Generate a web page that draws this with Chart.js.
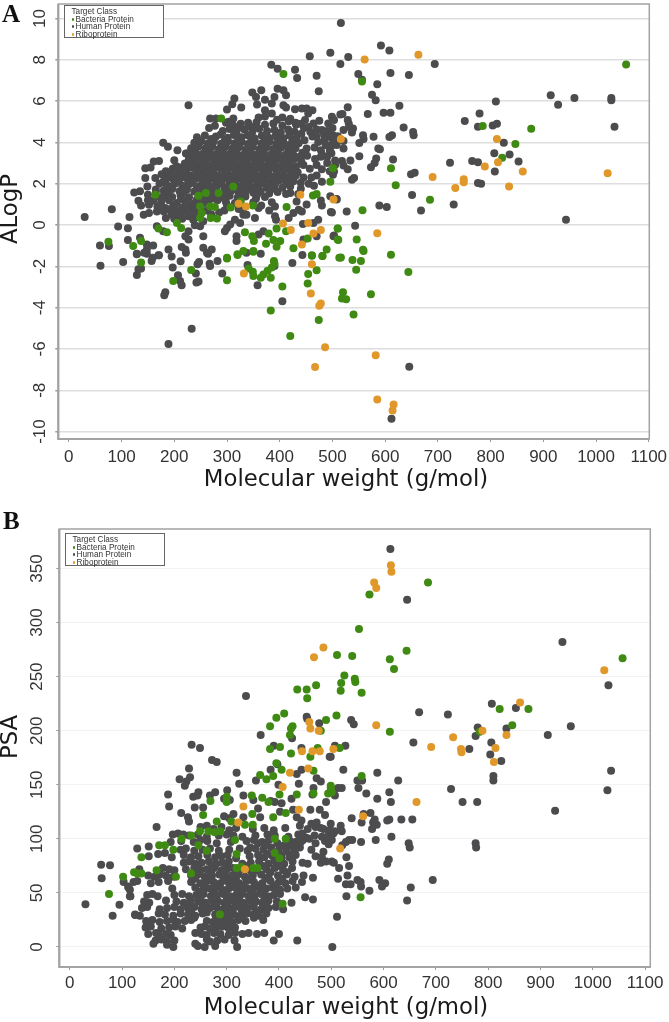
<!DOCTYPE html>
<html><head><meta charset="utf-8">
<script src="https://cdn.jsdelivr.net/npm/chart.js@4"></script>
<style>
html,body{margin:0;padding:0;background:#fff;width:669px;height:1022px;overflow:hidden}
canvas{position:absolute;left:0}
.letter{position:absolute;font:bold 25px "Liberation Serif";color:#111;line-height:1}
.legend{position:absolute;box-sizing:border-box;width:100px;height:33px;border:1px solid #666;background:#fff;font:8.2px/7.5px "Liberation Sans";color:#333;padding:2px 0 0 6.5px;white-space:nowrap}
.legend i{display:inline-block;width:2.6px;height:2.6px;border-radius:50%;margin-right:1.5px;vertical-align:1px}
</style></head><body>
<canvas id="a" width="669" height="505" style="top:0"></canvas>
<canvas id="b" width="669" height="517" style="top:505px"></canvas>
<div class="letter" style="left:2px;top:1px">A</div>
<div class="letter" style="left:3px;top:508px">B</div>
<div class="legend" id="la" style="left:64px;top:5px"></div>
<div class="legend" id="lb" style="left:65px;top:533px"></div>
<script>
const xTicks=[0,100,200,300,400,500,600,700,800,900,1000,1100];
const aYTicks=[-10,-8,-6,-4,-2,0,2,4,6,8,10];
const bYTicks=[0,50,100,150,200,250,300,350];
const legendTitle="Target Class";
const classNames=["Bacteria Protein","Human Protein","Riboprotein"];
const classColors=["#3f8a12","#4c4c4e","#e0982a"];
const xTitle="Molecular weight (g/mol)";
const aYTitle="ALogP";
const bYTitle="PSA";

const humanA=[[30,.39],[81.5,.76],[115,.39],[93.5,-.07],[112,-.16],[112,-.72],[59,-.99],[76,-1.02],[227,5.8],[179,3.98],[188,3.79],[206,3.62],[222,3.46],[145,2.75],[155,2.78],[161,3.07],[171,3.1],[200,3.13],[214,2.67],[124,1.58],[135,1.63],[145,2.27],[149,1.87],[164,2.27],[132,1.17],[137,.95],[142,.5],[152,.58],[152,.98],[167,.66],[184,.34],[167,-.06],[179,-.3],
[384,7.76],[396,7.56],[429,7.52],[433,7.12],[470,7.23],[457,8.17],[496,8.34],[516,9.78],[474,6.47],[348,6.41],[365,6.52],[355,6.2],[372,6.07],[357,5.83],[396,6.6],[407,6.52],[412,6.28],[390,6.2],[385,5.88],[372,5.56],[407,5.8],[412,5.69],[314,6.12],[310,5.85],[327,5.69],[300,5.59],[268,5.16],[279,5.16],[312,5.16],[303,5],[266,4.7],[277,4.8],[429,5.6],[442,5.64],[451,5.64],[462,5.56],[454,5.4],[448,5.08],[464,4.92],[475,5.05],[492,4.92],[499,5.24],[503,5.08],[515,5.35],
[592,8.69],[608,8.45],[530,8.13],[515,7.8],[694,7.8],[549,7.31],[556,7.03],[610,7.36],[645,7.26],[585,6.81],[575,6.31],[582,6.04],[810,5.98],[914,6.28],[928,5.82],[959,6.15],[1029,6.15],[1029,6.04],[1035,4.76],[627,5.77],[529,5.7],[519,5.37],[567,5.37],[597,5.43],[610,5.43],[779,5.4],[751,5.03],[776,4.76],[804,4.82],[812,4.9],[635,4.72],[653,4.5],[654,4.35],[613,4.35],[608,4.26],[578,4.27],[558,4.35],[559,4.16],[551,3.97],[825,3.98],[807,3.47],[836,3.41],[853,3.07],[808,2.59],[765,3.1],[776,3.04],[723,3.02],[615,3.17],[583,3.22],[580,3],[573,2.8],[551,3.33],[587,3.7],[590,3.67],[534,3.12],[518,3.1],[505,3.12],[521,2.88],[529,2.7],[649,2.46],[656,2.53],[537,2.19],[541,2.27],[776,2.03],[782,2],[651,1.45],[730,.99],[589,.95],[603,.87],[668,.7],[527,.65],[499,.61],[543,-.04],[508,1.26],[503,-.51],[943,.25],
[529,5.08],[531,4.9],[539,4.67],[521,4.6],[532,4.75],[537,4.48],[501,4.35],[501,4.1],[521,4.07],[508,3.87],[521,3.71],[498,3.83],[498,3.47],[503,2.59],[501,2.43],
[645.7,-6.86],[612,-9.38],
[60,-1.97],[103,-1.79],[129,-1.42],[129,-2.42],[132,-2.14],[137,-2.1],[148,-1.39],[157,-1.74],[159,-1.58],[171,-1.47],[195,-1.53],[197,-2.06],[212,-1.76],[222,-1.34],[207,-2.43],[211,-2.71],[214,-2.92],[183,-3.25],[181,-3.4],[247,-1.79],[244,-1.9],[241,-2.35],[246,-2.74],[242,-2.78],[267,-1.87],[268,-1.98],[264,-1.39],[282,-1.74],[291,-2.35],[337,-1.34],[339,-1.94],[364,-1.39],[358,-2.92],[405,-3.69],[390,-1.98],[424,-1.84],[443,-1.45],[233,-5.02],[189,-5.76],
[135,-.62],[129,-1.39],[148,-.94],[148,-1.18],[143,-1.34],[160,-.99],[170,-1.46],[189,-1.18],[214,-1.07],[221,-1.18],[227,-.7],[221,-.54],[255,-.54],[255,-1.1],[271,-1.18],[262,-1.34],[227,-.3],[239,-.01],[211,.42],[227,.42],[202,.74],[224,.74],[236,.26],[249,-.06],[255,.18],[300,-.14],[296,-.3],[306,.02],[315,.26],[325,.1],[318,-.54],[318,-.78],[331,.5],[337,.5],[353,.34],[360,.82],[369,-.3],[360,-.46],[391,.42],[393,.26],[391,.9],[417,.34],[426,.58],[436,.74],[442,.66],[432,1.14],[451,.99],[444,.05],[464,.1],[473,.26],[478,1.19],[480,.95],[497,.63],[496,1.39],[508,1.23],[502,-.54],[470,-.54],[445,-.7],
[298,4.95],[312,4.82],[326,4.9],[341,4.78],[356,4.98],[372,4.85],[388,4.92],[405,4.8],[417,5.02],[431,4.86],[446,4.7],
[292,4.55],[305,4.65],[318,4.5],[333,4.62],[348,4.52],[361,4.66],[376,4.55],[390,4.6],[402,4.48],[416,4.62],[428,4.52],[441,4.42],[458,4.5],[470,4.62],[484,4.4],
[243,4.25],[258,4.33],[279,4.28],[288,4.38],[301,4.22],[313,4.36],[327,4.25],[339,4.34],[352,4.2],[366,4.32],[379,4.22],[392,4.3],[406,4.2],[418,4.33],[432,4.2],[447,4.1],[462,4.28],[473,4.02],[485,4.15],[497,4.25],
[238,3.98],[251,4.06],[264,3.95],[275,4.04],[289,3.94],[302,4.05],[315,3.96],[328,4.02],[340,3.92],[353,4.04],[366,3.95],[381,4.03],[394,3.94],[407,4.02],[421,3.9],[436,3.96],[451,3.7],[466,3.75],[478,3.62],[490,3.85],
[232,3.72],[246,3.8],[259,3.7],[272,3.78],[285,3.68],[297,3.78],[310,3.7],[323,3.76],[336,3.66],[349,3.78],[362,3.68],[375,3.76],[388,3.68],[402,3.74],[416,3.66],[430,3.72],[443,3.5],
[226,3.48],[240,3.54],[253,3.44],[266,3.52],[279,3.42],[292,3.52],[305,3.44],[318,3.5],[331,3.4],[344,3.52],[357,3.42],[370,3.5],[384,3.42],[397,3.48],[411,3.4],[425,3.46],[439,3.3],[452,3.35],[467,3.2],[480,3.42],[490,3.3],
[228,3.22],[242,3.28],[254,3.18],[268,3.26],[281,3.16],[294,3.26],[307,3.18],[320,3.24],[333,3.14],[346,3.26],[359,3.16],[373,3.24],[386,3.16],[400,3.22],[413,3.14],[427,3.2],[441,3.08],
[220,2.98],[234,3.04],[247,2.94],[260,3.02],[273,2.92],[286,3.02],[299,2.94],[312,3],[325,2.9],[338,3],[351,2.92],[364,2.98],[377,2.9],[391,2.96],[404,2.88],[418,2.94],[431,2.84],[445,2.9],[457,2.72],
[197,2.72],[210,2.78],[223,2.68],[236,2.76],[249,2.66],[262,2.76],[275,2.68],[288,2.74],[301,2.64],[314,2.74],[327,2.66],[340,2.72],[353,2.64],[366,2.7],[379,2.62],[393,2.68],[407,2.6],[420,2.66],[434,2.56],
[176,2.46],[190,2.52],[204,2.42],[218,2.5],[231,2.4],[244,2.5],[257,2.42],[270,2.48],[283,2.38],[296,2.48],[309,2.4],[322,2.46],[335,2.38],[348,2.44],[361,2.36],[374,2.42],[388,2.34],[402,2.4],[416,2.32],[430,2.38],[445,2.3],
[185,2.24],[199,2.18],[212,2.26],[226,2.16],[240,2.24],[253,2.14],[266,2.22],[279,2.14],[292,2.2],[305,2.1],[318,2.2],[331,2.12],[344,2.18],[357,2.1],[370,2.16],[383,2.08],[398,2.14],[412,2.06],[426,2.12],[440,2.05],
[172,2],[186,1.92],[201,2],[215,1.9],[229,1.98],[243,1.88],[256,1.96],[269,1.88],[282,1.94],[295,1.84],[321,1.86],[334,1.92],[347,1.84],[360,1.9],[375,1.82],[390,1.88],[405,1.8],[420,1.86],
[165,1.72],[180,1.66],[196,1.74],[210,1.64],[224,1.72],[238,1.62],[252,1.7],[266,1.78],[280,1.68],[294,1.6],[308,1.66],[322,1.58],[336,1.64],[350,1.56],[364,1.62],[380,1.52],[396,1.6],[412,1.5],
[150,1.46],[166,1.38],[181,1.46],[196,1.36],[212,1.44],[228,1.34],[243,1.24],[258,1.3],[274,1.28],[290,1.34],[305,1.42],[320,1.32],[335,1.38],[355,1.28],[372,1.36],
[160,1.18],[175,1.1],[190,1.2],[205,1.06],[220,1.16],[235,1.02],[250,.72],[265,1.14],[282,1.2],[298,1.12],[315,1.06],[330,.72],[350,1.1],[385,1.1],
[168,.9],[183,.82],[198,.96],[215,.84],[232,.92],[245,.62],[262,.7],[285,.6],[300,.96],[322,.78],[365,.94],[380,.7],[180,.66],[215,.62],[240,.5],[270,.52],[295,.7],
[245,4.12],[270,4.16],[296,4.1],[322,4.14],[346,4.1],[372,4.14],[398,4.12],[424,4.08],
[240,3.86],[265,3.84],[291,3.88],[316,3.84],[343,3.86],[369,3.84],[395,3.82],[410,3.88],
[236,3.6],[260,3.62],[286,3.58],[311,3.6],[337,3.56],[363,3.6],[391,3.58],[418,3.56],
[233,3.36],[260,3.38],[287,3.34],[313,3.36],[340,3.34],[366,3.38],[393,3.32],[420,3.34],[433,3.28],
[227,3.1],[254,3.12],[280,3.08],[306,3.1],[332,3.06],[358,3.1],[384,3.04],[411,3.08],
[204,2.85],[229,2.88],[255,2.84],[281,2.88],[307,2.84],[333,2.86],[358,2.82],[385,2.84],[412,2.78],
[184,2.6],[211,2.62],[243,2.6],[268,2.62],[295,2.58],[320,2.6],[346,2.56],[373,2.56],[400,2.52],[428,2.5],
[193,2.36],[225,2.32],[250,2.34],[276,2.3],[302,2.32],[328,2.3],[354,2.28],[381,2.26],[408,2.24],
[179,2.1],[206,2.12],[233,2.08],[260,2.06],[286,2.08],[312,2.04],[338,2.06],[364,2.02],[391,2],[416,1.98],
[192,1.85],[222,1.84],[250,1.82],[276,1.8],[308,1.82],[328,1.78],[354,1.76],[383,1.72],
[188,1.58],[218,1.56],[246,1.54],[272,1.5],[300,1.52],[329,1.48],[357,1.46],
[213,1.28],[241,1.1],[268,1.36],[296,1.26],[325,1.18],
[340,4.95],[350,4.75],[360,5.2],[372,5.25],[385,5.4],[395,5.1],[405,5.2],[420,5.15],[430,4.95],[322,4.72],[440,4.9],[455,4.75],[470,4.3],[480,4.6],[490,4.55],[500,4.7],[510,4.3],[487,3.9],[495,3.6],[478,3.3],[490,3],[505,2.9],[470,2.9],[480,2.7],[495,2.6],[470,2.4],[460,2.3],[455,2],[480,2.1],[465,1.9],[440,1.75],[435,1.5],[420,1.55],[150,1.2],[175,.9],[190,.75],[205,.55],[225,1.05],[240,.85],[255,1.05],[165,1.6],[178,1.35],[195,.5],[215,.3],[230,.6],[200,.3]];
const bacteriaA=[[1057,7.77],[877,4.66],[785,4.79],[847,3.92],[822,3.26],[611,2.75],[620,1.92],[685,1.22],[557,.71],[510,-.17],[511,-.72],[546,-.7],[558,-1.2],[556,6.95],[501,2.75],[496,2.1],
[516,-1.57],[538,-1.69],[554,-1.74],[545,-2.16],[644,-2.27],[520,-3.25],[518,-3.56],[526,-3.59],[573,-3.35],[540,-4.33],[559,-1.26],[611,-1.44],
[137,-1.81],[232,-2.18],[198,-2.71],[300,-1.62],[300,-2.67],[320,-1.45],[341,-2.1],[349,-2.26],[350,-2.47],[364,-2.55],[369,-2.39],[377,-2.22],[385,-2.06],[390,-1.87],[383,-2.55],[405,-2.98],[383,-4.14],[420,-5.37],[454,-2.37],[470,-2.19],[453,-2.83],[474,-4.6],[461,-1.49],[481,-1.5],[513,-1.58],[350,-1.26],
[407,7.31],[289,5.16],[312,1.87],[164,1.47],[246,1.42],[260,1.55],[284,1.55],[249,.9],[268,.9],[277,.87],[326,1.14],[349,.95],[307,.85],[252,.58],[249,.34],[269,.34],[281,.31],[413,.87],[463,1.43],[470,1.5],[205,.1],[213,-.14],[170,-.17],[186,-.35],[75,-.81],[137,-.78],[122,-1.02],[300,-1.58],[320,-1.42],[334,-.35],[348,-.54],[351,-.78],[379,-.41],[394,-.17],[412,-.3],[401,-.78],[388,-.73],[374,-.91],[394,-1.05],[426,-1.13],[453,-.65],[510,-.17],[510,-.7],[489,-1.18],[481,-1.5],[461,-1.47],[350,-1.29],[331,-1.26],[389,-1.74]];
const riboA=[[663,8.24],[561,8.01],[812,4.16],[516,4.16],[814,3.04],[789,2.83],[861,2.59],[1022,2.51],[690,2.33],[749,2.22],[749,2.07],[733,1.79],[835,1.87],[585,-.4],[502,1.23],[582,-6.3],[585,-8.45],[616,-8.69],[614,-8.98],[461,-1.9],[332,-2.35],[459,-3.32],[478,-3.8],[475,-3.91],[486,-5.92],[467,-6.88],[439,1.47],[322,1.03],[336,.9],[406,.07],[421,-.24],[454,.1],[478,-.24],[464,-.41],[442,-.94]];

const humanB=[[613,368],[645,321],[942,282],[1030,242],[807,225],[853,221],[668,217],[723,215],[538,210],[543,206],[780,203],[835,202],[958,204],[914,196],[776,195],[657,189],[806,189],[527,186],[507,186],[764,183],[804,178],[825,172],[499,176],
[1035,163],[1028,145],[928,126],[729,146],[751,134],[779,134],[810,158],[810,154],[628,154],[588,161],[523,164],[559,154],[550,154],[520,147],[552,147],[611,143],[567,142],[507,140],[588,137],[614,134],[575,124],[562,123],[539,119],[583,118],[580,115],[558,115],[611,118],[607,117],[634,118],[655,118],[587,113],[578,109],[518,112],[520,107],[507,107],[499,114],[501,107],[615,102],[585,99],[557,97],[540,99],[534,99],[528,97],[521,94],[501,99],[648,96],[650,92],[776,96],[777,92],[529,83],[610,81],[607,77],[534,75],[515,73],[501,79],[505,78],[531,66],[513,63],[550,62],[556,60],[557,56],[592,62],[603,59],[597,56],[694,62],[652,55],[573,52],[528,58],[537,58],[529,47],[645,43],[511,28],[502,0],
[337,232],[365,196],[453,213],[454,211],[477,207],[425,193],[390,186],[443,184],[233,187],[249,184],[272,173],[281,171],[497,176],
[228,165],[210,155],[230,157],[223,153],[220,149],[319,161],[324,151],[384,164],[397,169],[356,154],[434,160],[443,164],[438,151],[472,156],[480,153],[188,141],[190,130],[213,124],[226,120],[228,116],[236,139],[246,143],[244,140],[268,140],[278,143],[301,145],[295,137],[306,136],[239,129],[255,129],[295,121],[305,119],[313,123],[332,140],[351,136],[332,120],[360,128],[364,120],[384,135],[392,134],[405,133],[402,125],[399,150],[424,137],[427,127],[434,120],[443,117],[460,127],[466,147],[464,141],[478,127],[488,122],[490,134],[504,143],[513,147],
[166,111],[250,111],[262,112],[275,109],[290,111],[305,108],[318,110],[350,109],[372,110],[390,108],[412,110],[440,112],[455,109],[470,111],[485,109],
[197,104],[207,105],[217,104],[228,103],[245,104],[262,102],[285,103],[300,104],[313,103],[330,102],[355,103],[378,104],[392,103],[418,102],[437,104],[452,101],[468,103],[482,102],[495,104],
[193,97],[213,98],[237,97],[250,99],[263,98],[281,96],[308,97],[338,98],[352,99],[368,97],[381,99],[397,96],[421,98],[432,97],[446,99],[470,96],[488,98],
[129,91],[151,93],[212,90],[222,91],[238,89],[254,90],[268,91],[285,89],[305,90],[325,91],[340,89],[355,91],[370,90],[385,92],[400,90],[415,91],[430,89],[440,92],[462,90],
[151,84],[169,86],[182,87],[195,83],[218,85],[232,83],[246,84],[263,85],[278,83],[290,84],[302,85],[318,82],[344,84],[360,85],[372,83],[388,84],[404,85],[420,83],[432,85],[470,84],[482,83],
[218,78],[228,79],[240,77],[252,78],[266,79],[280,77],[292,78],[304,79],[330,77],[346,78],[362,79],[380,77],[395,78],[410,77],[426,79],[445,78],[455,77],[480,78],[490,79],
[133,72],[178,73],[190,72],[200,71],[222,72],[238,73],[250,71],[262,72],[276,73],[290,71],[300,72],[312,73],[325,71],[340,72],[358,71],[376,72],[392,73],[408,71],[425,73],
[150,66],[162,65],[172,67],[184,66],[198,65],[232,66],[245,67],[258,65],[272,66],[286,67],[298,65],[310,66],[322,67],[335,65],[350,66],[366,67],[380,65],[398,66],[415,67],[430,65],[447,66],[465,64],
[122,60],[129,61],[155,59],[170,60],[188,61],[232,60],[250,59],[262,61],[275,60],[288,59],[300,61],[312,60],[324,59],[338,61],[352,60],[368,59],[384,61],[400,60],[412,59],[426,61],[444,60],
[112,55],[115,53],[196,54],[240,55],[255,53],[268,54],[280,55],[292,53],[304,54],[316,55],[328,53],[340,54],[352,55],[364,53],[376,54],[388,55],[402,53],[416,54],[432,55],
[116,47],[148,48],[158,49],[168,47],[200,48],[215,49],[228,47],[242,48],[256,49],[270,47],[282,48],[294,49],[306,47],[318,48],[330,49],[342,47],[354,48],[366,49],[378,47],[390,48],[402,49],[450,46],[465,44],
[142,42],[152,41],[184,43],[204,42],[218,41],[232,43],[246,42],[260,41],[272,43],[284,42],[296,41],[308,43],[320,42],[332,41],[344,43],[356,42],[368,41],[380,43],[396,42],[424,41],
[138,36],[148,37],[172,35],[186,36],[200,37],[212,35],[226,36],[238,37],[252,35],[268,36],[280,37],[292,35],[304,36],[316,37],[328,35],[340,36],[352,37],[366,35],[380,36],[394,37],[408,35],
[125,30],[134,29],[170,31],[182,30],[198,29],[212,31],[226,30],[240,29],[254,31],[278,30],[290,29],[302,31],[314,30],[326,29],[338,31],[350,30],[362,29],[376,31],
[146,24],[158,25],[172,23],[186,24],[198,25],[206,23],[220,24],[232,25],[262,24],[274,23],[286,25],[298,24],[310,23],[322,25],[336,24],[370,25],
[145,18],[155,19],[175,17],[190,18],[202,19],[215,17],[250,18],[258,19],[268,17],[280,18],[292,19],[304,17],[316,18],
[150,12],[165,13],[170,11],[184,12],[193,11],[240,13],[252,12],[262,11],[276,13],[288,12],[304,11],[316,13],[330,12],[342,13],[358,12],[372,13],[400,12],
[164,6],[175,7],[186,5],[200,6],[262,7],[268,5],[282,6],[296,7],[315,6],[390,6],[435,6],
[160,3],[186,2],[198,0],[240,3],[245,1],[258,0],[278,1],[320,0],
[30,39.5],[95,39],[82,29],[60,76],[77,75.5],[61,63.5],[103,60],[112,56],[115,47],[125,29.6],
[250,45],[276,44],[300,46],[324,44],[348,45],[372,44],
[225,39],[254,38],[278,39],[302,38],[326,39],[350,38],[374,39],
[232,33],[262,32],[286,33],[310,32],[334,33],[358,32],
[250,51],[274,51],[298,50],[322,51],[346,50],[370,51],[395,50],
[258,57],[282,57],[306,57],[330,56],[358,57],[392,57],
[240,63],[268,63],[294,63],[318,62],[344,63],[374,63],[406,63],
[244,69],[270,69],[296,69],[320,69],[348,69],[384,69],[416,69],
[246,75],[272,75],[300,75],[336,75],[370,75],[402,75],
[238,27],[280,27],[304,27],[328,27],[352,27],
[282,21],[298,21],[310,21],
[421,96],[428,93],[415,88],[434,97],[410,94],[405,82],[425,85],[445,105],[462,114],[472,115],[480,110],[497,108],[504,105],[495,95],[485,88],[458,100],[442,97],[375,94],[360,96],[345,92],[392,80],[378,86]];
const bacteriaB=[[685,337],[573,326],[553,294],[511,270],[540,269],[644,274],[612,266],[620,257],[525,251],[545,248],[546,245],[519,244],[518,237],[558,235],[510,214],[877,220],[822,220],[846,205],[1057,267],[612,199],[784,199],[516,184],
[556,46],[558,158],[499,147],[501,143],
[471,242],[435,238],[453,238],[454,230],[410,216],[395,212],[383,204],[426,204],[423,202],[421,196],[490,210],[480,200],[383,183],[402,185],[474,184],[423,179],[460,176],
[75,49],[102,65],[123,69],[129,68],[137,68],[137,83],[171,94],[182,94],[198,90],[166,71],[203,65],[232,68],[214,100],[232,103],[249,107],[265,107],[277,106],[288,107],[281,116],[255,122],[269,135],[300,139],[300,134],[309,116],[335,113],[350,113],[349,123],[348,140],[368,138],[380,134],[364,159],[376,155],[389,158],[395,170],[405,164],[401,141],[434,141],[413,124],[389,120],[466,163],[499,149],[494,142],[316,99],[319,86],[392,100],[392,87],[401,82],[319,73],[328,74],[351,73],[359,73],[262,89],[246,94],[287,30],[407,40],[413,100],[466,142]];
const riboB=[[614,353],[615,347],[582,337],[586,332],[1022,256],[861,226],[789,200],[586,205],[835,196],[733,194],[814,184],[691,185],[748,183],[749,180],[504,183],[811,171],[663,134],[561,121],[517,91],[485,277],[467,268],[458,208],[460,202],[476,200],[444,181],[464,181],[478,181],[421,161],[456,165],[407,148],[332,130],[438,127],[322,115],[335,72]];

const titlePlugin=(xT,yT,xc,xy,yx,yc)=>({id:'titles',afterDraw(c){const t=c.ctx;t.save();t.fillStyle='#1a1a1a';t.textAlign='center';t.textBaseline='middle';t.font='22.8px "DejaVu Sans"';t.fillText(xT,xc,xy);t.translate(yx,yc);t.rotate(-Math.PI/2);t.fillText(yT,0,0);t.restore();}});
const framePlugin=(col)=>({id:'frame',beforeDatasetsDraw(c){const t=c.ctx,a=c.chartArea;t.save();t.strokeStyle=col;t.lineWidth=1.5;t.strokeRect(a.left,a.top,a.right-a.left,a.bottom-a.top);t.lineWidth=2.2;t.beginPath();t.moveTo(a.left,a.top);t.lineTo(a.left,a.bottom);t.lineTo(a.right,a.bottom);t.stroke();t.restore();}});
function make(id,ymin,ymax,yTicks,human,bact,ribo,cfg){
 const ds=(d,i)=>({label:classNames[i],data:d.map(p=>({x:p[0],y:p[1]})),backgroundColor:classColors[i],borderColor:classColors[i],borderWidth:0,pointRadius:4,pointHoverRadius:4});
 return new Chart(document.getElementById(id),{type:'scatter',
  data:{datasets:[ds(ribo,2),ds(bact,0),ds(human,1)]},
  plugins:[framePlugin('#a3a3a3'),titlePlugin(xTitle,cfg.yTitle,cfg.xc,cfg.xy,cfg.yx,cfg.yc)],
  options:{responsive:false,animation:false,devicePixelRatio:1,
   layout:{padding:{left:0,top:cfg.top,right:cfg.right,bottom:0}},
   plugins:{legend:{display:false},tooltip:{enabled:false}},
   scales:{
    x:{type:'linear',min:-20,max:cfg.xmax,afterBuildTicks:s=>{s.ticks=xTicks.map(v=>({value:v}))},afterFit:s=>{s.height=cfg.xh;s.paddingLeft=0;s.paddingRight=0},
     grid:{display:true,drawOnChartArea:false,tickLength:3,tickColor:'#999'},border:{display:false},
     ticks:{autoSkip:false,maxRotation:0,minRotation:0,padding:cfg.xpad,color:'#333',font:{family:'Liberation Sans',size:17},callback:v=>String(v)}},
    y:{type:'linear',min:ymin,max:ymax,afterBuildTicks:s=>{s.ticks=yTicks.map(v=>({value:v}))},afterFit:s=>{s.width=cfg.yw;s.paddingTop=0;s.paddingBottom=0},
     grid:{color:cfg.grid,lineWidth:cfg.gw,tickLength:3,tickColor:'#999'},border:{display:false},
     ticks:{autoSkip:false,minRotation:90,maxRotation:90,crossAlign:'center',padding:cfg.ypad,color:'#333',font:{family:'Liberation Sans',size:17},callback:v=>String(v)}}
   }}});
}
make('a',-10.36,10.7,aYTicks,humanA,bacteriaA,riboA,{yTitle:aYTitle,top:1.3,right:19.7,xh:66,yw:58.3,xmax:1101,xpad:5,ypad:2.6,grid:'#dedede',gw:1.5,xc:346,xy:480,yx:11,yc:209});
make('b',-18.5,386.5,bYTicks,humanB,bacteriaB,riboB,{yTitle:bYTitle,top:24,right:18.7,xh:55,yw:59.3,xmax:1110,xpad:3.5,ypad:5,grid:'#f3f3f3',gw:1,xc:346,xy:503,yx:11,yc:232});
for(const id of ['la','lb']){const el=document.getElementById(id);
 el.innerHTML='<div>'+legendTitle+'</div>'+classNames.map((n,i)=>'<div><i style="background:'+classColors[i]+'"></i>'+n+'</div>').join('');}
</script></body></html>
